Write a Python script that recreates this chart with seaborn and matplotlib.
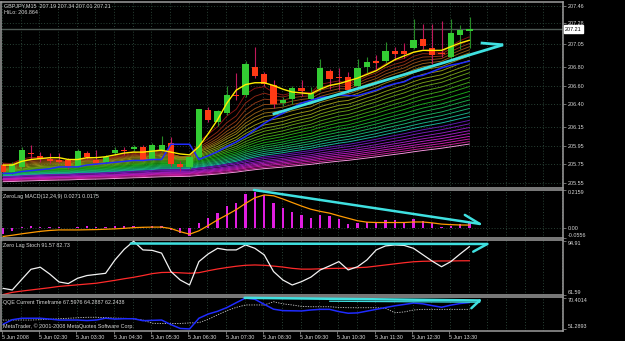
import numpy as np
import pandas as pd
import matplotlib
matplotlib.use("Agg")
import matplotlib.pyplot as plt
import matplotlib.transforms as mtransforms
import colorsys
import seaborn as sns

# --- price data (GBPJPY M15, bars from 01:30 to 14:00) ---
bars = list(range(51))
opens = [205.74, 205.67, 205.72, 205.875, 205.84, 205.81, 205.80, 205.80, 205.72, 205.87,
         205.80, 205.77, 205.87, 205.90, 205.91, 205.94, 205.80, 205.90, 205.975, 205.75,
         205.72, 205.83, 206.33, 206.21, 206.30, 206.50, 206.50, 206.80, 206.72, 206.61,
         206.41, 206.45, 206.57, 206.45, 206.56, 206.76, 206.695, 206.69, 206.60, 206.80,
         206.865, 206.86, 206.97, 206.97, 207.01, 207.10, 207.01, 206.95, 206.905, 207.15, 207.19]
highs = [205.76, 205.77, 205.94, 205.96, 205.88, 205.87, 205.87, 205.82, 205.91, 205.89,
         205.90, 205.85, 205.94, 205.94, 205.96, 205.96, 205.98, 206.055, 206.04, 205.78,
         205.85, 206.35, 206.37, 206.34, 206.60, 206.73, 206.86, 207.02, 206.75, 206.66,
         206.48, 206.59, 206.66, 206.58, 206.89, 206.78, 206.79, 206.75, 206.89, 206.91,
         206.93, 207.07, 207.02, 207.06, 207.32, 207.27, 207.27, 207.30, 207.32, 207.25, 207.34]
lows = [205.65, 205.64, 205.70, 205.81, 205.77, 205.76, 205.76, 205.70, 205.70, 205.81,
        205.75, 205.75, 205.85, 205.85, 205.89, 205.78, 205.78, 205.88, 205.73, 205.68,
        205.70, 205.80, 206.21, 206.16, 206.28, 206.44, 206.48, 206.68, 206.60, 206.36,
        206.38, 206.40, 206.49, 206.43, 206.54, 206.56, 206.55, 206.52, 206.58, 206.74,
        206.78, 206.84, 206.88, 206.90, 206.99, 207.00, 206.83, 206.91, 206.88, 206.99, 207.01]
closes = [205.67, 205.75, 205.90, 205.86, 205.81, 205.78, 205.77, 205.72, 205.89, 205.83,
          205.76, 205.83, 205.90, 205.89, 205.94, 205.80, 205.96, 205.96, 205.75, 205.72,
          205.83, 206.345, 206.23, 206.32, 206.50, 206.49, 206.83, 206.70, 206.62, 206.40,
          206.44, 206.57, 206.54, 206.52, 206.79, 206.67, 206.685, 206.55, 206.79, 206.85,
          206.84, 206.97, 206.94, 206.94, 207.09, 207.03, 206.93, 206.94, 207.17, 207.20, 207.21]

fast_ma = [205.74, 205.74, 205.78, 205.80, 205.81, 205.82, 205.82, 205.80, 205.80, 205.82,
           205.82, 205.83, 205.85, 205.87, 205.88, 205.88, 205.89, 205.90, 205.88, 205.86,
           205.85, 205.94, 206.08, 206.23, 206.41, 206.55, 206.61, 206.63, 206.63, 206.60,
           206.56, 206.53, 206.52, 206.51, 206.56, 206.60, 206.62, 206.65, 206.68, 206.72,
           206.76, 206.82, 206.88, 206.92, 206.96, 206.98, 206.98, 206.98, 207.02, 207.06, 207.09]
hilo = [205.65, 205.65, 205.67, 205.68, 205.69, 205.70, 205.72, 205.72, 205.72, 205.74,
        205.75, 205.76, 205.77, 205.78, 205.79, 205.79, 205.80, 205.80, 205.965, 205.965,
        205.965, 205.80, 205.84, 205.885, 205.94, 205.99, 206.05, 206.12, 206.19, 206.25,
        206.30, 206.36, 206.41, 206.44, 206.47, 206.48, 206.50, 206.49, 206.49, 206.52,
        206.55, 206.59, 206.62, 206.64, 206.69, 206.71, 206.75, 206.79, 206.82, 206.84, 206.864]

# rainbow moving averages: EMA periods and their level at the first bar
rainbow_periods = [5, 7, 9, 11, 13, 15, 17, 20, 23, 26, 29, 33, 37, 41, 46, 51, 56, 62, 68, 75,
                   82, 90, 98, 107, 116, 125, 135, 145, 155, 165]
rainbow_start = [205.76, 205.75, 205.74, 205.73, 205.72, 205.71, 205.70, 205.69, 205.68, 205.675,
                 205.67, 205.665, 205.66, 205.655, 205.65, 205.645, 205.64, 205.635, 205.63, 205.625,
                 205.62, 205.615, 205.61, 205.60, 205.595, 205.59, 205.585, 205.58, 205.57, 205.56]

macd_hist = [-0.035, -0.015, 0.006, 0.010, 0.008, 0.006, 0.004, 0.002, 0.008, 0.010,
             0.006, 0.006, 0.010, 0.010, 0.012, 0.006, 0.012, 0.015, -0.010, -0.030,
             -0.045, 0.030, 0.056, 0.088, 0.126, 0.145, 0.194, 0.207, 0.188, 0.145,
             0.113, 0.094, 0.075, 0.060, 0.075, 0.066, 0.051, 0.023, 0.032, 0.037,
             0.032, 0.047, 0.047, 0.037, 0.051, 0.043, 0.028, 0.009, 0.013, 0.024, 0.0271]
macd_signal = [-0.047, -0.040, -0.032, -0.025, -0.018, -0.013, -0.010, -0.010, -0.010, -0.009,
               -0.008, -0.006, -0.004, -0.001, 0.003, 0.005, 0.006, 0.006, -0.002, -0.020,
               -0.034, -0.015, 0.015, 0.047, 0.075, 0.105, 0.140, 0.172, 0.188, 0.183,
               0.165, 0.145, 0.125, 0.107, 0.095, 0.085, 0.070, 0.056, 0.042, 0.034,
               0.032, 0.032, 0.032, 0.032, 0.035, 0.035, 0.030, 0.023, 0.020, 0.018, 0.0175]

stoch_main = [65.5, 64.5, 71.0, 77.4, 78.7, 74.5, 69.5, 68.5, 71.8, 73.5,
              74.2, 74.9, 83.2, 89.9, 94.9, 89.5, 89.2, 87.5, 76.0, 70.7,
              67.6, 82.2, 87.0, 90.5, 89.5, 89.5, 92.6, 90.5, 86.4, 76.0,
              70.7, 67.6, 69.7, 72.5, 77.0, 79.5, 82.2, 77.0, 79.0, 83.2,
              89.5, 92.0, 92.6, 92.3, 90.5, 86.5, 82.5, 79.0, 82.2, 87.0, 91.57]
stoch_signal = [61.6, 63.0, 63.8, 64.5, 65.2, 65.9, 66.7, 67.2, 67.7, 68.2,
                68.7, 69.6, 70.5, 71.5, 72.4, 73.5, 74.7, 75.4, 75.5, 75.2,
                74.9, 75.3, 76.5, 77.6, 78.5, 79.3, 79.9, 80.1, 79.9, 79.4,
                78.8, 78.0, 77.5, 77.5, 77.7, 77.9, 78.0, 78.1, 78.4, 78.7,
                79.4, 80.1, 80.8, 81.5, 82.1, 82.4, 82.5, 82.6, 82.6, 82.7, 82.73]

qqe_main = [54.2, 57.0, 57.9, 57.9, 57.9, 57.4, 56.8, 56.8, 56.8, 56.5,
            56.8, 57.9, 57.4, 57.6, 57.6, 56.4, 56.6, 56.8, 54.0, 51.6,
            51.29, 57.9, 60.5, 62.2, 64.5, 67.5, 70.4, 69.6, 66.5, 63.5,
            62.6, 62.5, 62.4, 63.0, 63.4, 63.4, 62.0, 61.0, 61.2, 62.3,
            63.4, 64.5, 65.6, 66.4, 67.3, 66.8, 65.7, 64.7, 66.0, 67.0, 67.6]
qqe_slow = [56.8, 56.8, 56.8, 56.8, 57.0, 57.3, 57.6, 57.9, 58.2, 58.5,
            58.5, 58.3, 58.0, 57.9, 57.6, 56.8, 54.8, 54.7, 54.6, 54.7,
            55.0, 55.2, 57.2, 60.0, 62.6, 64.6, 66.1, 66.1, 66.1, 68.1,
            66.8, 66.1, 65.2, 65.0, 65.0, 65.0, 64.6, 64.4, 64.4, 64.4,
            64.4, 64.0, 61.3, 61.8, 63.0, 63.4, 63.4, 63.4, 63.4, 63.4, 63.4]

# hand-drawn trend lines (bar, value)
main_trend = [(28.9, 206.29), (53.6, 207.04)]
main_barb = [(51.2, 207.06), (53.6, 207.04)]
macd_trend = [(26.9, 0.2159), (51.1, 0.024)]
macd_barb = [(49.5, 0.075), (51.1, 0.024)]
stoch_trend = [(13.7, 93.5), (51.9, 93.2)]
stoch_barb = [(50.4, 88.4), (51.9, 93.2)]
qqe_trend = [(25.9, 70.5), (51.1, 68.9)]
qqe_trend2 = [(35.0, 68.4), (51.1, 67.8)]
qqe_barb = [(50.2, 64.1), (51.1, 68.9)]

main_ticks = [205.55, 205.75, 205.95, 206.15, 206.40, 206.60, 206.80, 207.05, 207.28, 207.46]
time_bars = [0, 4, 8, 12, 16, 20, 24, 28, 32, 36, 40, 44, 48]
time_labels = ["5 Jun 2008", "5 Jun 02:30", "5 Jun 03:30", "5 Jun 04:30", "5 Jun 05:30",
               "5 Jun 06:30", "5 Jun 07:30", "5 Jun 08:30", "5 Jun 09:30", "5 Jun 10:30",
               "5 Jun 11:30", "5 Jun 12:30", "5 Jun 13:30"]
last_price = 207.21

sns.set_theme(style="dark")
plt.rcParams['font.family'] = ['Liberation Sans', 'DejaVu Sans']

W, H = 625, 341
fs = 3.9
txt = "#d8d8d8"
frame = "#9c9c9c"
grid_col = "#2e4a3c"
cyan = "#3fe0e0"
x_lo, x_hi = -0.21, 60.02

fig = plt.figure(figsize=(W / 100, H / 100), dpi=100, facecolor="black")


def panel(top, bottom):
    ax = fig.add_axes([1 / W, 1 - bottom / H, 562 / W, (bottom - top) / H])
    ax.set_facecolor("black")
    for s in ax.spines.values():
        s.set_color(frame)
        s.set_linewidth(1.1)
    ax.set_xlim(x_lo, x_hi)
    ax.yaxis.tick_right()
    ax.tick_params(axis="y", colors=frame, labelcolor=txt, labelsize=fs, length=2,
                   width=0.5, pad=1.2, left=False, right=True)
    ax.tick_params(axis="x", bottom=False, labelbottom=False)
    ax.grid(False)
    for b in range(0, 62, 2):
        ax.axvline(b - 0.1, color=grid_col, lw=0.6, ls=(0, (1.2, 2.2)), zorder=0)
    return ax


def rainbow_colour(k, n):
    # red -> orange -> yellow -> green -> teal, then purple -> magenta -> pink
    t = k / (n - 1)
    hue = 0.5 * t / 0.72 if t < 0.72 else 0.74 + (t - 0.72) / 0.28 * 0.16
    val = 0.55 + 0.25 * t
    return colorsys.hsv_to_rgb(hue, 0.85, val)


# ---------------- main chart ----------------
ax = panel(2, 188)
ax.set_ylim(205.492, 207.503)
for t in main_ticks:
    ax.axhline(t, color=grid_col, lw=0.6, ls=(0, (1.2, 2.2)), zorder=0)
ax.axhline(last_price, color="#4e5a55", lw=1.0, zorder=0.5)

cl = np.array(closes)
rows = []
for k, (p, s) in enumerate(zip(rainbow_periods, rainbow_start)):
    a = 2.0 / (p + 1)
    e = s
    for i, c in enumerate(cl):
        if i > 0:
            e = e + a * (c - e)
        rows.append({"bar": i, "value": e, "line": k})
rain = pd.DataFrame(rows)
n_r = len(rainbow_periods)
pal = [rainbow_colour(k, n_r) for k in range(n_r)]
pal[-1] = "#ff9ae6"
sns.lineplot(data=rain, x="bar", y="value", hue="line", palette=pal, legend=False,
             lw=0.65, ax=ax, zorder=1)

o, h, l, c = map(np.array, (opens, highs, lows, closes))
up = c >= o
bx = np.array(bars)
ax.vlines(bx[up], l[up], h[up], color="#268a26", lw=0.8, zorder=2)
ax.vlines(bx[~up], l[~up], h[~up], color="#c0185a", lw=0.8, zorder=2)
body_lo = np.minimum(o, c)
body_h = np.maximum(np.abs(c - o), 0.006)
ax.bar(bx[up], body_h[up], bottom=body_lo[up], width=0.66, color="#33cc33", zorder=3, lw=0)
ax.bar(bx[~up], body_h[~up], bottom=body_lo[~up], width=0.66, color="#ff3a14", zorder=3, lw=0)

sns.lineplot(x=bars, y=hilo, ax=ax, color="#1f2bff", lw=1.1, zorder=4)
sns.lineplot(x=bars, y=fast_ma, ax=ax, color="#ffee00", lw=1.0, zorder=4)
ax.plot(*zip(*main_trend), color=cyan, lw=2.0, solid_capstyle="butt", zorder=6, clip_on=False)
ax.plot(*zip(*main_barb), color=cyan, lw=2.0, solid_capstyle="butt", zorder=6, clip_on=False)

ax.set_yticks(main_ticks)
ax.set_yticklabels([f"{t:.2f}" for t in main_ticks])
ax.set_xlim(x_lo, x_hi)
ax.set_xlabel("")
ax.set_ylabel("")
ax.text(1.004, last_price, f"{last_price:.2f}", transform=mtransforms.blended_transform_factory(ax.transAxes, ax.transData),
        fontsize=fs, color="black", va="center", ha="left", zorder=10, clip_on=False,
        bbox=dict(boxstyle="square,pad=0.25", fc="white", ec="white"))
ax.text(0.006, 0.978, "GBPJPY,M15  207.19 207.34 207.01 207.21", transform=ax.transAxes,
        fontsize=fs, color=txt, va="center", ha="left")
ax.text(0.006, 0.943, "HiLo: 206.864", transform=ax.transAxes, fontsize=fs, color=txt,
        va="center", ha="left")

# ---------------- MACD ----------------
am = panel(189.5, 238)
am.set_ylim(-0.0556, 0.2187)
am.axhline(0, color=grid_col, lw=0.6, ls=(0, (1.2, 2.2)), zorder=0)
am.bar(bars, macd_hist, width=0.24, color="#e01ee0", lw=0, zorder=2)
sns.lineplot(x=bars, y=macd_signal, ax=am, color="#ff9a00", lw=0.9, zorder=3)
am.plot(*zip(*macd_trend), color=cyan, lw=1.8, zorder=6, clip_on=False)
am.plot(*zip(*macd_barb), color=cyan, lw=1.8, zorder=6, clip_on=False)
am.set_yticks([0.2159, 0.0, -0.0556])
am.set_yticklabels(["0.2159", "0.00", "-0.0556"])
lab = am.get_yticklabels()
lab[0].set_va("top")
lab[2].set_va("bottom")
am.set_xlim(x_lo, x_hi)
am.set_xlabel("")
am.set_ylabel("")
am.text(0.004, 0.86, "ZeroLag MACD(12,24,9) 0.0271 0.0175", transform=am.transAxes,
        fontsize=fs, color=txt, va="center", ha="left")

# ---------------- Stochastic ----------------
ast = panel(239.5, 295)
ast.set_ylim(61.35, 96.0)
sns.lineplot(x=bars, y=stoch_signal, ax=ast, color="#ff2a2a", lw=0.9, zorder=2)
sns.lineplot(x=bars, y=stoch_main, ax=ast, color="#f2f2f2", lw=0.9, zorder=3)
ast.plot(*zip(*stoch_trend), color=cyan, lw=1.8, zorder=6, clip_on=False)
ast.plot(*zip(*stoch_barb), color=cyan, lw=1.8, zorder=6, clip_on=False)
ast.set_yticks([94.91, 61.59])
ast.set_yticklabels(["94.91", "61.59"])
lab = ast.get_yticklabels()
lab[0].set_va("top")
lab[1].set_va("bottom")
ast.set_xlim(x_lo, x_hi)
ast.set_xlabel("")
ast.set_ylabel("")
ast.text(0.004, 0.9, "Zero Lag Stoch 91.57 82.73", transform=ast.transAxes,
         fontsize=fs, color=txt, va="center", ha="left")

# ---------------- QQE ----------------
aq = panel(297, 330.5)
aq.set_ylim(50.34, 71.02)
sns.lineplot(x=bars, y=qqe_slow, ax=aq, color="#cfcfcf", lw=0.6, ls=(0, (1.5, 1.5)), zorder=2)
sns.lineplot(x=bars, y=qqe_main, ax=aq, color="#1f2bff", lw=1.1, zorder=3)
aq.plot(*zip(*qqe_trend), color=cyan, lw=1.8, zorder=6, clip_on=False)
aq.plot(*zip(*qqe_trend2), color=cyan, lw=0.9, zorder=6, clip_on=False)
aq.plot(*zip(*qqe_barb), color=cyan, lw=1.8, zorder=6, clip_on=False)
aq.set_yticks([70.4014, 51.2893])
aq.set_yticklabels(["70.4014", "51.2893"])
lab = aq.get_yticklabels()
lab[0].set_va("top")
lab[1].set_va("bottom")
aq.set_xlim(x_lo, x_hi)
aq.set_xticks([b - 0.15 for b in time_bars])
aq.set_xticklabels(time_labels, ha="left")
aq.tick_params(axis="x", bottom=True, labelbottom=True, colors=frame, labelcolor=txt,
               labelsize=fs, length=2.5, width=0.5, pad=0.8)
aq.set_xlabel("")
aq.set_ylabel("")
aq.text(0.004, 0.84, "QQE Current Timeframe 67.5976 64.2887 62.2438", transform=aq.transAxes,
        fontsize=fs, color=txt, va="center", ha="left")
aq.text(0.004, 0.12, "MetaTrader, \u00a9 2001-2008 MetaQuotes Software Corp.", transform=aq.transAxes,
        fontsize=fs, color=txt, va="center", ha="left")

fig.savefig("out.png", dpi=100, facecolor="black")
